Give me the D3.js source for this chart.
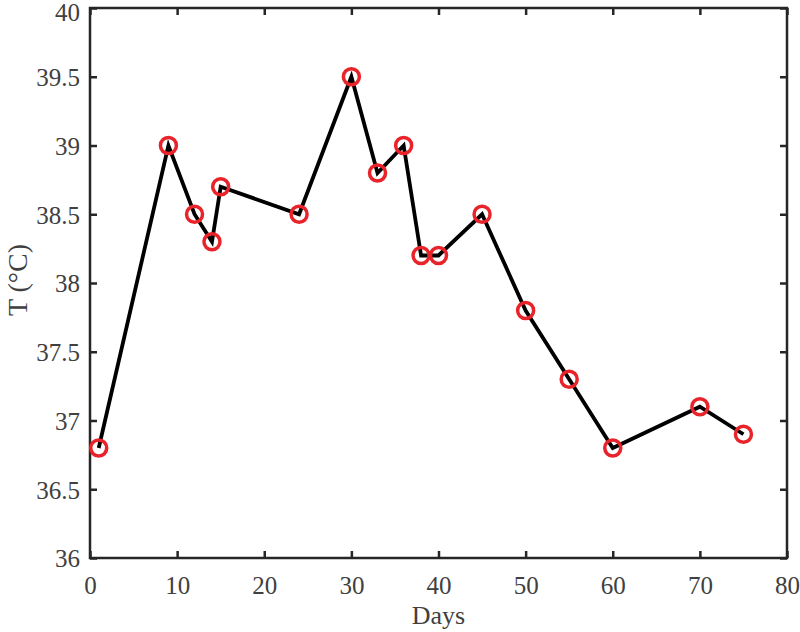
<!DOCTYPE html>
<html>
<head>
    <meta charset="utf-8">
    <script src="https://d3js.org/d3.v7.min.js"></script>
    <style>
        body { margin: 0; background: #fff; }
        text { font-family: "Liberation Serif", "Times New Roman", serif; }
    </style>
</head>
<body>
    <svg id="chart"></svg>
    <script>
        // data
        var days = [1, 9, 12, 14, 15, 24, 30, 33, 36, 38, 40, 45, 50, 55, 60, 70, 75];
        var temps = [36.8, 39, 38.5, 38.3, 38.7, 38.5, 39.5, 38.8, 39, 38.2, 38.2, 38.5, 37.8, 37.3, 36.8, 37.1, 36.9];
        var xTicks = [0, 10, 20, 30, 40, 50, 60, 70, 80];
        var yTicks = [36, 36.5, 37, 37.5, 38, 38.5, 39, 39.5, 40];

        var W = 800, H = 632;
        var margin = { top: 8, right: 13, bottom: 74, left: 90 },
            width = W - margin.left - margin.right,
            height = H - margin.top - margin.bottom;

        var svg = d3.select("#chart").attr("width", W).attr("height", H);
        var g = svg.append("g").attr("transform", "translate(" + margin.left + "," + margin.top + ")");

        var x = d3.scaleLinear().domain([0, 80]).range([0, width]);
        var y = d3.scaleLinear().domain([36, 40]).range([height, 0]);

        var tickLen = 7, col = "#262626", txt = "#404040";

        // box
        g.append("rect").attr("width", width).attr("height", height)
            .attr("fill", "none").attr("stroke", col).attr("stroke-width", 2.5);

        // ticks point inward, mirrored on top and right
        var xAxis = g.append("g").attr("transform", "translate(0," + height + ")")
            .call(d3.axisBottom(x).tickValues(xTicks).tickSizeInner(-tickLen).tickSizeOuter(0).tickPadding(18));
        var xTop = g.append("g")
            .call(d3.axisTop(x).tickValues(xTicks).tickSizeInner(-tickLen).tickSizeOuter(0).tickFormat(""));
        var yAxis = g.append("g")
            .call(d3.axisLeft(y).tickValues(yTicks).tickSizeInner(-tickLen).tickSizeOuter(0).tickPadding(10).tickFormat(d3.format("")));
        var yRight = g.append("g").attr("transform", "translate(" + width + ",0)")
            .call(d3.axisRight(y).tickValues(yTicks).tickSizeInner(-tickLen).tickSizeOuter(0).tickFormat(""));

        [xAxis, xTop, yAxis, yRight].forEach(function (a) {
            a.select(".domain").remove();
            a.selectAll("line").attr("stroke", col).attr("stroke-width", 2.5);
            a.selectAll("text").attr("fill", txt).style("font-size", "25px");
        });
        xAxis.selectAll("text").attr("dy", "0.71em");
        yAxis.selectAll("text").attr("dy", function (d) { return d === 40 ? "0.5em" : "0.35em"; });

        var pts = days.map(function (d, i) { return [d, temps[i]]; });

        g.append("path").datum(pts)
            .attr("fill", "none").attr("stroke", "#000").attr("stroke-width", 3.8)
            .attr("stroke-linejoin", "miter")
            .attr("d", d3.line().x(function (d) { return x(d[0]); }).y(function (d) { return y(d[1]); }));

        g.selectAll("circle.pt").data(pts).join("circle")
            .attr("class", "pt")
            .attr("cx", function (d) { return x(d[0]); })
            .attr("cy", function (d) { return y(d[1]); })
            .attr("r", 8)
            .attr("fill", "none").attr("stroke", "#e8232a").attr("stroke-width", 3.5);

        // axis labels
        svg.append("text").attr("x", margin.left + width / 2).attr("y", 624)
            .attr("text-anchor", "middle").attr("fill", txt).style("font-size", "26px").text("Days");
        svg.append("text").attr("transform", "translate(27," + (margin.top + height / 2 - 3) + ") rotate(-90)")
            .attr("text-anchor", "middle").attr("fill", txt).style("font-size", "28px").text("T (°C)");
    </script>
</body>
</html>
